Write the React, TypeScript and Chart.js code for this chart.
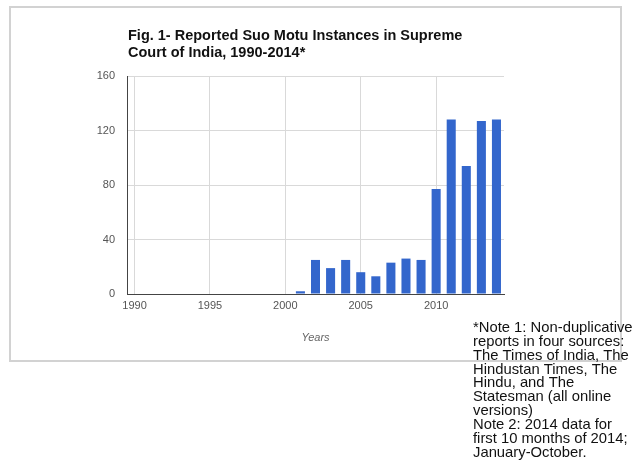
import React, { useEffect, useRef } from "react";
import { Chart, registerables } from "chart.js";

Chart.register(...registerables);

const years = [2001, 2002, 2003, 2004, 2005, 2006, 2007, 2008, 2009, 2010, 2011, 2012, 2013, 2014];
const counts = [2, 25, 19, 25, 16, 13, 23, 26, 25, 77, 128, 94, 127, 128];
const xTickYears = [1990, 1995, 2000, 2005, 2010];
const yTickValues = [0, 40, 80, 120, 160];
const titleLines = [
  "Fig. 1- Reported Suo Motu Instances in Supreme",
  "Court of India, 1990-2014*",
];
const xAxisTitle = "Years";
const noteLines = [
  "*Note 1: Non-duplicative",
  "reports in four sources:",
  "The Times of India, The",
  "Hindustan Times, The",
  "Hindu, and The",
  "Statesman (all online",
  "versions)",
  "Note 2: 2014 data for",
  "first 10 months of 2014;",
  "January-October.",
];

const FONT = "'Liberation Sans', Arial, sans-serif";

const decorPlugin = {
  id: "decor",
  beforeDraw(chart: any) {
    const ctx = chart.ctx;
    ctx.save();
    ctx.fillStyle = "#ffffff";
    ctx.fillRect(0, 0, chart.width, chart.height);
    ctx.strokeStyle = "#d2d2d2";
    ctx.lineWidth = 2;
    ctx.strokeRect(10, 7, 611, 354);
    ctx.restore();
  },
  afterDraw(chart: any) {
    const ctx = chart.ctx;
    const area = chart.chartArea;
    ctx.save();
    // title
    ctx.fillStyle = "#111111";
    ctx.font = `bold 14.5px ${FONT}`;
    ctx.textAlign = "left";
    ctx.textBaseline = "alphabetic";
    titleLines.forEach((line, i) => {
      ctx.fillText(line, 128, 39.5 + i * 17.4);
    });
    // axis title
    ctx.fillStyle = "#666666";
    ctx.font = `italic 11px ${FONT}`;
    ctx.textAlign = "center";
    ctx.textBaseline = "middle";
    ctx.fillText(xAxisTitle, (area.left + area.right) / 2, 338);
    // notes
    ctx.fillStyle = "#111111";
    ctx.font = `14.8px ${FONT}`;
    ctx.textAlign = "left";
    ctx.textBaseline = "alphabetic";
    noteLines.forEach((line, i) => {
      ctx.fillText(line, 473, 332 + i * 13.85);
    });
    ctx.restore();
  },
};

export default function App() {
  const canvasRef = useRef<HTMLCanvasElement | null>(null);

  useEffect(() => {
    const canvas = canvasRef.current;
    if (!canvas) return;
    const chart = new Chart(canvas, {
      type: "bar",
      data: {
        datasets: [
          {
            label: "Suo Motu Instances",
            data: years.map((y, i) => ({ x: y, y: counts[i] })),
            backgroundColor: "#3366cc",
            borderWidth: 0,
            barPercentage: 0.6,
            categoryPercentage: 1,
          },
        ],
      },
      options: {
        responsive: false,
        animation: false,
        devicePixelRatio: 1,
        layout: { padding: { top: 76, right: 131, left: 0, bottom: 0 } },
        plugins: {
          legend: { display: false },
          tooltip: { enabled: false },
          title: { display: false },
        },
        scales: {
          x: {
            type: "linear",
            min: 1989.5,
            max: 2014.5,
            offset: false,
            afterBuildTicks: (scale: any) => {
              scale.ticks = xTickYears.map((v) => ({ value: v }));
            },
            afterFit: (scale: any) => {
              scale.height = 166;
            },
            ticks: {
              color: "#555555",
              font: { family: FONT, size: 11 },
              padding: 5,
              maxRotation: 0,
              callback: (v: any) => String(v),
            },
            grid: { color: "#d9d9d9", drawTicks: false, lineWidth: 1, offset: false },
            border: { display: true, color: "#444444", width: 1 },
          },
          y: {
            min: 0,
            max: 160,
            afterBuildTicks: (scale: any) => {
              scale.ticks = yTickValues.map((v) => ({ value: v }));
            },
            afterFit: (scale: any) => {
              scale.width = 127;
            },
            ticks: {
              color: "#555555",
              font: { family: FONT, size: 11 },
              padding: 12,
              callback: (v: any) => String(v),
            },
            grid: { color: "#d9d9d9", drawTicks: false, lineWidth: 1 },
            border: { display: true, color: "#444444", width: 1 },
          },
        },
      },
      plugins: [decorPlugin],
    });
    return () => chart.destroy();
  }, []);

  return (
    <div style={{ position: "absolute", left: 0, top: 0, width: 635, height: 460 }}>
      <canvas ref={canvasRef} width={635} height={460} style={{ width: 635, height: 460, display: "block" }} />
    </div>
  );
}
